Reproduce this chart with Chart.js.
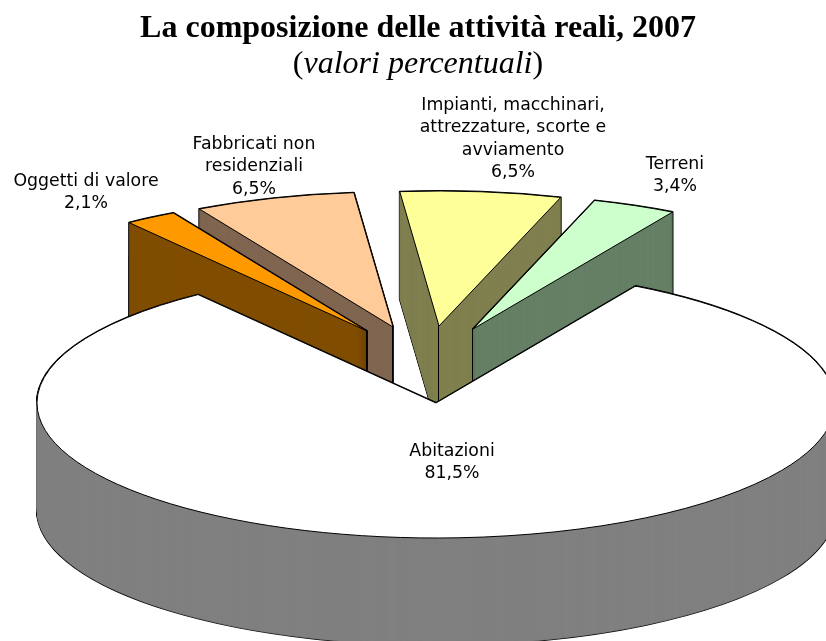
<!DOCTYPE html>
<html>
<head>
<meta charset="utf-8">
<style>html,body{margin:0;padding:0;background:#fff;overflow:hidden}canvas{display:block}</style>
<script src="https://cdn.jsdelivr.net/npm/chart.js@4/dist/chart.umd.js"></script>
</head>
<body>
<canvas id="c" width="826" height="641"></canvas>
<script>
// Data, clockwise starting from the right edge of the large slice
const categories = ['Abitazioni', 'Oggetti di valore', 'Fabbricati non residenziali',
  'Impianti, macchinari, attrezzature, scorte e avviamento', 'Terreni'];
const shares = [81.5, 2.1, 6.5, 6.5, 3.4];

// Styles
const topColors = ['#FFFFFF', '#FF9900', '#FFCC99', '#FFFF99', '#CCFFCC'];
const wallColors = ['#808080', '#804D00', '#806650', '#808050', '#668066'];
const titleText = 'La composizione delle attività reali, 2007';
const subtitleParts = [['(', ''], ['valori percentuali', 'italic '], [')', '']];
const labelLines = [['Abitazioni'], ['Oggetti di valore'], ['Fabbricati non', 'residenziali'],
  ['Impianti, macchinari,', 'attrezzature, scorte e', 'avviamento'], ['Terreni']];

// Projection of the tilted pie
const view = {cx: 436, cy: 403, rx: 399, ry: 135, depth: 107, rotation: 30};
const explodeX = [0, -69, -43, 3, 37];
const explodeY = [0, -72, -76, -77, -74];
const paintOrder = [3, 4, 2, 1, 0];
const labelX = [452, 86, 254, 513, 675];
const labelY = [451, 181, 144, 105, 164];
const labelLeading = 22.6;

function place(ctx, arc, i, d) {
  const sx = view.rx / arc.outerRadius, sy = view.ry / arc.outerRadius;
  ctx.translate(view.cx + explodeX[i], view.cy + explodeY[i] + d);
  ctx.scale(sx, sy);
  ctx.translate(-arc.x, -arc.y);
}
function drawCopy(ctx, arc, i, d, opts) {
  const saved = arc.options;
  arc.options = Object.assign({}, saved, opts);
  ctx.save();
  place(ctx, arc, i, d);
  arc.draw(ctx);
  ctx.restore();
  arc.options = saved;
}

const pie3d = {
  id: 'pie3d',
  beforeDatasetsDraw(chart) {
    const ctx = chart.ctx;
    const arcs = chart.getDatasetMeta(0).data;
    // Keep a round pen although the path is drawn through a squashing transform
    const nativeStroke = ctx.stroke;
    ctx.stroke = function () {
      ctx.save();
      ctx.setTransform(1, 0, 0, 1, 0, 0);
      nativeStroke.call(ctx);
      ctx.restore();
    };
    paintOrder.forEach(i => {
      const arc = arcs[i];
      for (let d = view.depth; d >= 0; d--) {
        drawCopy(ctx, arc, i, d, {backgroundColor: '#000', borderColor: '#000', borderWidth: 2, borderJoinStyle: 'round'});
      }
      const split = view.cx + explodeX[i];
      const panes = explodeX[i] === 0
        ? [[0, 826]]
        : [[0, split - 1], [split, 826]];
      panes.forEach(([a, b]) => {
        ctx.save();
        ctx.beginPath();
        ctx.rect(a, 0, b - a, 641);
        ctx.clip();
        for (let d = view.depth; d >= 1; d--) {
          drawCopy(ctx, arc, i, d, {backgroundColor: wallColors[i], borderColor: wallColors[i], borderWidth: 0.7, borderJoinStyle: 'round'});
        }
        ctx.restore();
      });
      drawCopy(ctx, arc, i, 0, {});
    });
    delete ctx.stroke;
    return false;
  },
  afterDraw(chart) {
    const ctx = chart.ctx;
    ctx.save();
    ctx.fillStyle = '#000';
    ctx.textBaseline = 'alphabetic';
    // Subtitle with mixed upright and italic parts
    const subFont = s => s + '32px "Liberation Serif"';
    let w = 0;
    subtitleParts.forEach(([t, s]) => { ctx.font = subFont(s); w += ctx.measureText(t).width; });
    let x = 418 - w / 2;
    ctx.textAlign = 'left';
    subtitleParts.forEach(([t, s]) => {
      ctx.font = subFont(s);
      ctx.fillText(t, x, 73);
      x += ctx.measureText(t).width;
    });
    // Slice labels
    ctx.font = '17.33px "DejaVu Sans"';
    ctx.textAlign = 'center';
    ctx.textBaseline = 'middle';
    labelLines.forEach((lines, i) => {
      const all = lines.concat(String(shares[i]).replace('.', ',') + '%');
      all.forEach((t, k) => ctx.fillText(t, labelX[i], labelY[i] + k * labelLeading));
    });
    ctx.restore();
  }
};

new Chart(document.getElementById('c'), {
  type: 'pie',
  data: {
    labels: categories,
    datasets: [{
      data: shares,
      backgroundColor: topColors,
      borderColor: '#000',
      borderWidth: 1,
      borderJoinStyle: 'miter'
    }]
  },
  options: {
    responsive: false,
    animation: false,
    rotation: view.rotation,
    layout: {padding: {left: 10}},
    plugins: {
      legend: {display: false},
      tooltip: {enabled: false},
      title: {
        display: true,
        text: titleText,
        color: '#000',
        font: {family: '"Liberation Serif"', size: 32, weight: 'bold'},
        padding: {top: 10, bottom: 0}
      }
    }
  },
  plugins: [pie3d]
});
</script>
</body>
</html>
